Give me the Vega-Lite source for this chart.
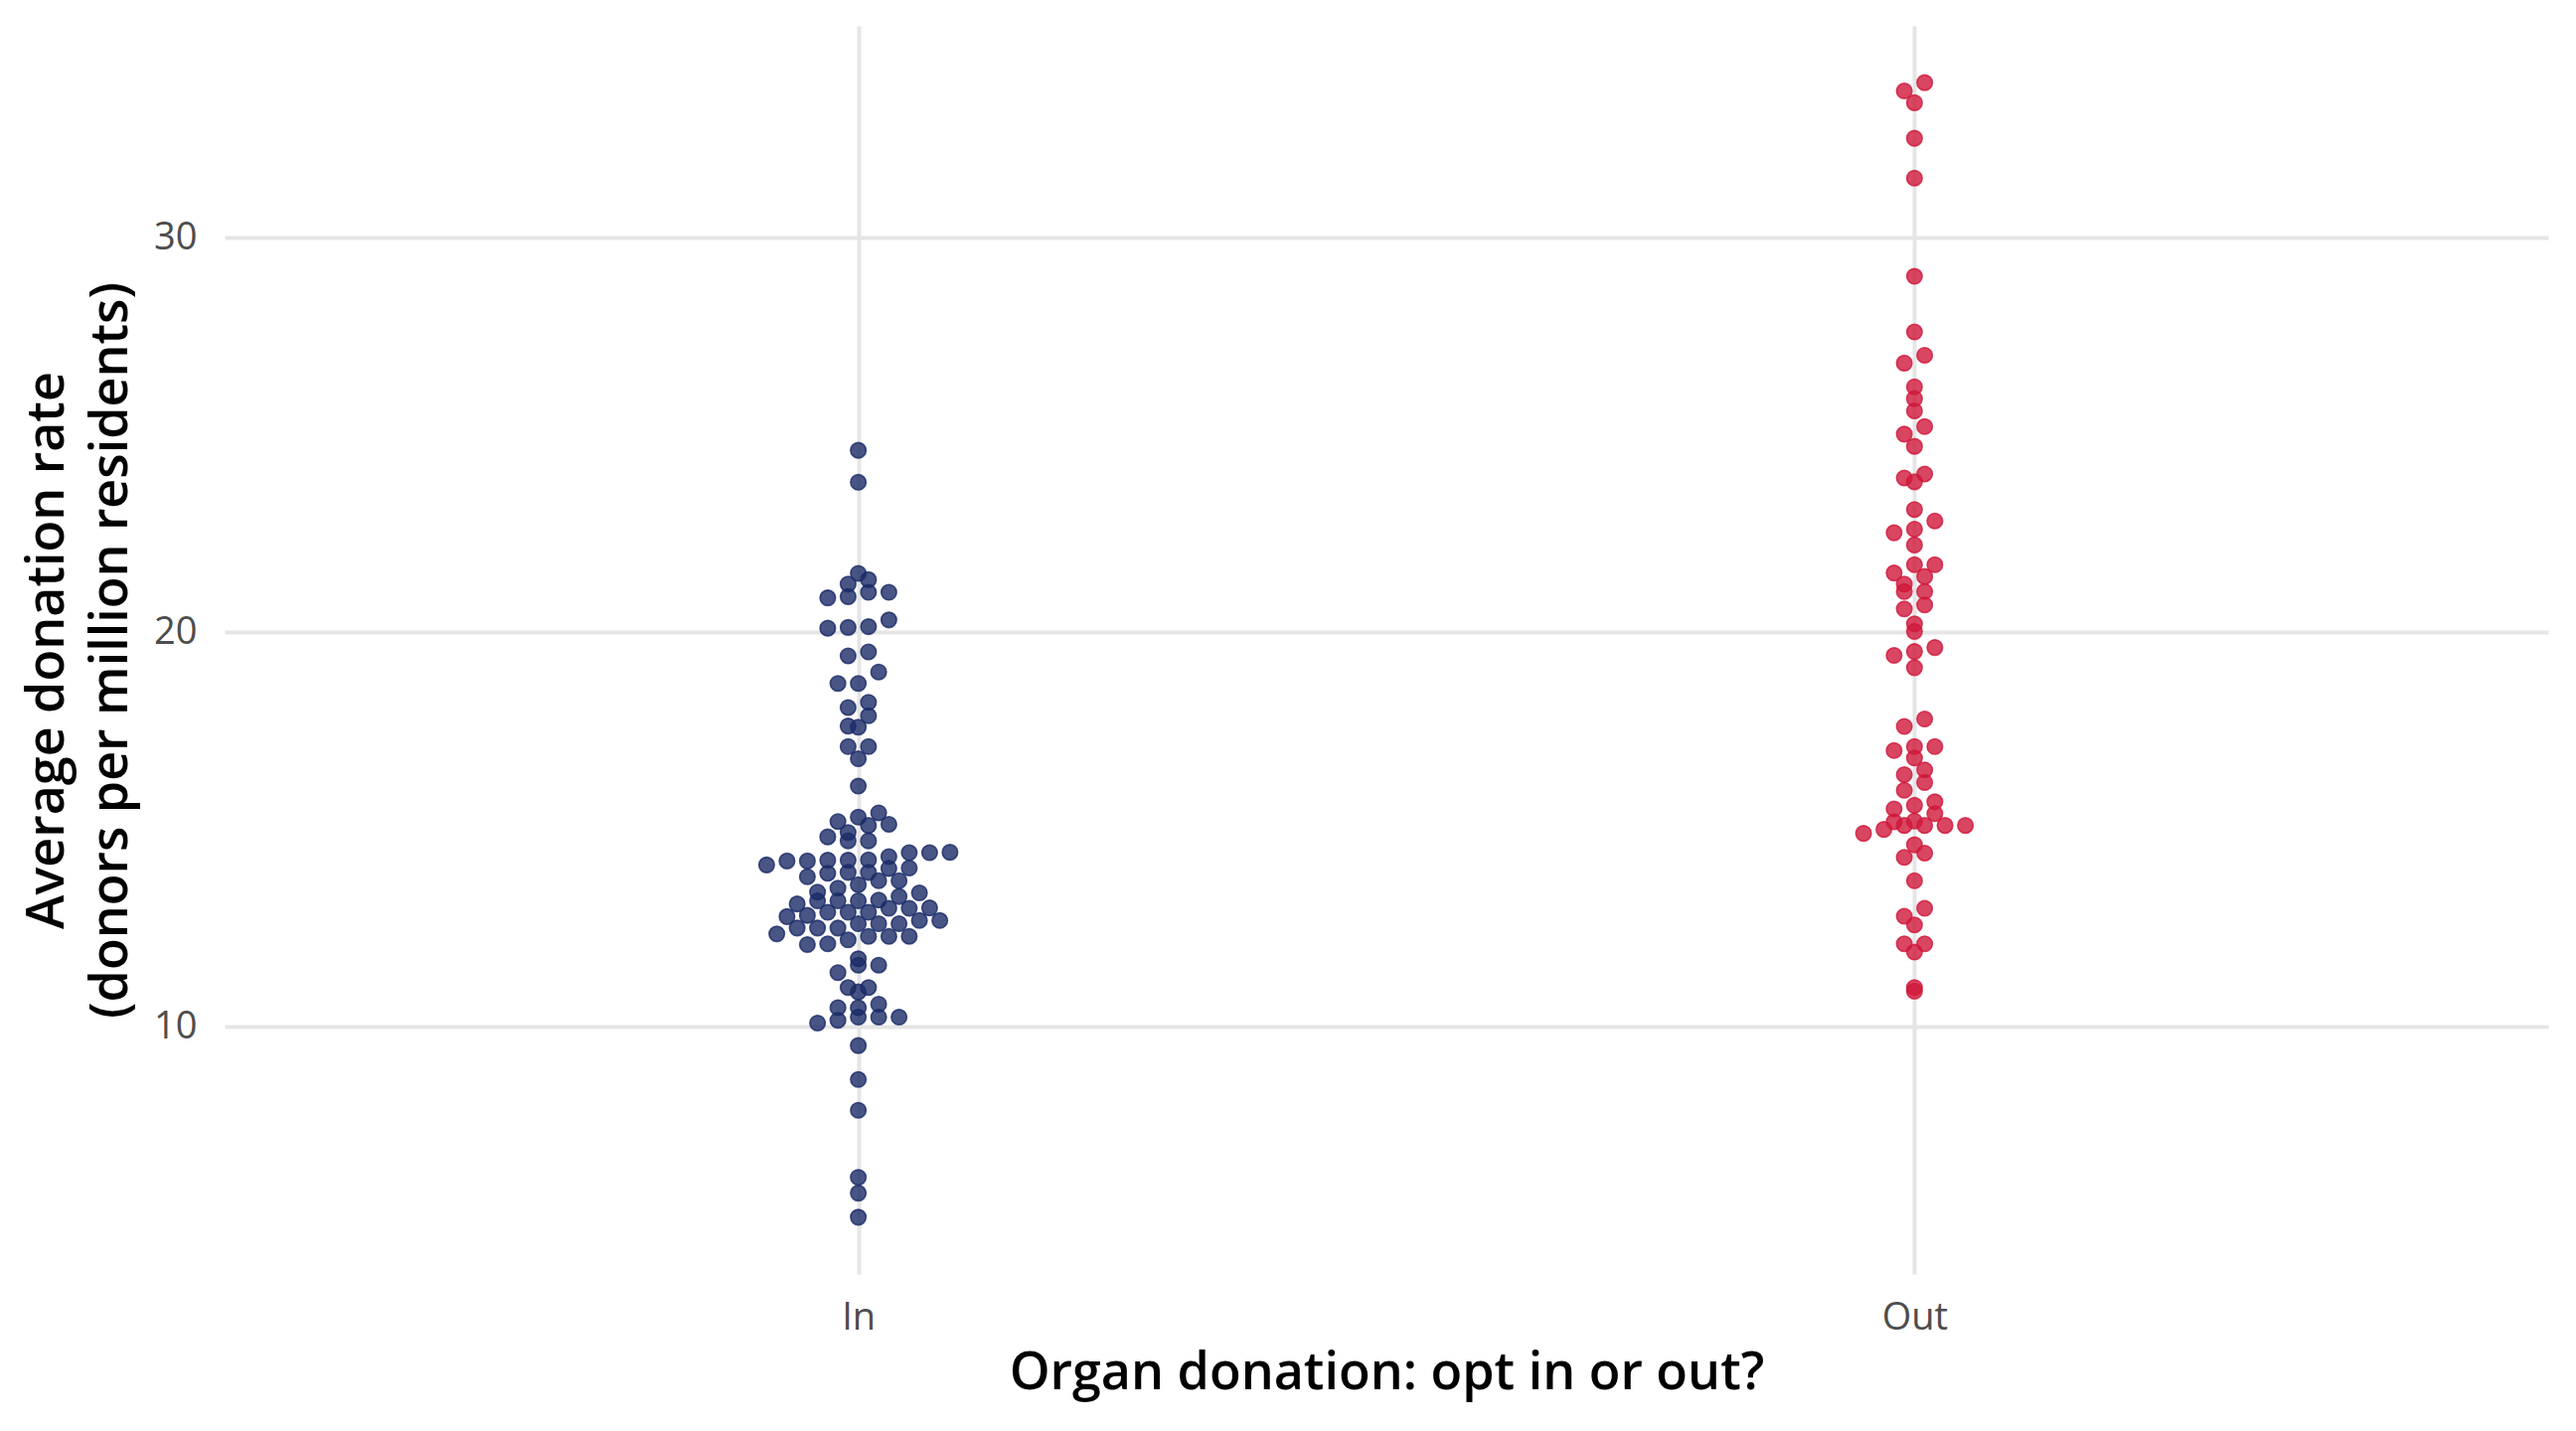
{
  "$schema": "https://vega.github.io/schema/vega-lite/v6.json",
  "width": 2338,
  "height": 1256,
  "autosize": {"type": "none"},
  "padding": {"left": 226, "top": 26, "right": 28, "bottom": 158},
  "background": "white",
  "config": {"view": {"stroke": null}, "font": "Open Sans"},
  "datasets": {
    "donors": [
      {"opt": "In", "rate": 24.61}, {"opt": "In", "rate": 23.80}, {"opt": "In", "rate": 21.49}, {"opt": "In", "rate": 21.22},
      {"opt": "In", "rate": 21.33}, {"opt": "In", "rate": 21.01}, {"opt": "In", "rate": 21.01}, {"opt": "In", "rate": 20.87},
      {"opt": "In", "rate": 20.90}, {"opt": "In", "rate": 20.14}, {"opt": "In", "rate": 20.10}, {"opt": "In", "rate": 20.12},
      {"opt": "In", "rate": 20.31}, {"opt": "In", "rate": 19.40}, {"opt": "In", "rate": 19.50}, {"opt": "In", "rate": 18.99},
      {"opt": "In", "rate": 18.70}, {"opt": "In", "rate": 18.70}, {"opt": "In", "rate": 18.22}, {"opt": "In", "rate": 18.09},
      {"opt": "In", "rate": 17.88}, {"opt": "In", "rate": 17.59}, {"opt": "In", "rate": 17.62}, {"opt": "In", "rate": 17.10},
      {"opt": "In", "rate": 17.10}, {"opt": "In", "rate": 16.79}, {"opt": "In", "rate": 16.10}, {"opt": "In", "rate": 15.42},
      {"opt": "In", "rate": 15.20}, {"opt": "In", "rate": 15.10}, {"opt": "In", "rate": 15.13}, {"opt": "In", "rate": 15.31},
      {"opt": "In", "rate": 14.81}, {"opt": "In", "rate": 14.71}, {"opt": "In", "rate": 14.71}, {"opt": "In", "rate": 14.92},
      {"opt": "In", "rate": 14.41}, {"opt": "In", "rate": 14.41}, {"opt": "In", "rate": 14.31}, {"opt": "In", "rate": 14.22},
      {"opt": "In", "rate": 14.01}, {"opt": "In", "rate": 14.02}, {"opt": "In", "rate": 14.22}, {"opt": "In", "rate": 14.10},
      {"opt": "In", "rate": 14.23}, {"opt": "In", "rate": 14.20}, {"opt": "In", "rate": 14.20}, {"opt": "In", "rate": 14.42},
      {"opt": "In", "rate": 13.80}, {"opt": "In", "rate": 13.91}, {"opt": "In", "rate": 13.91}, {"opt": "In", "rate": 13.89},
      {"opt": "In", "rate": 13.60}, {"opt": "In", "rate": 13.70}, {"opt": "In", "rate": 13.70}, {"opt": "In", "rate": 13.51},
      {"opt": "In", "rate": 13.39}, {"opt": "In", "rate": 13.41}, {"opt": "In", "rate": 13.19}, {"opt": "In", "rate": 13.00},
      {"opt": "In", "rate": 13.00}, {"opt": "In", "rate": 13.19}, {"opt": "In", "rate": 13.11}, {"opt": "In", "rate": 13.19},
      {"opt": "In", "rate": 13.21}, {"opt": "In", "rate": 13.30}, {"opt": "In", "rate": 13.01}, {"opt": "In", "rate": 12.90},
      {"opt": "In", "rate": 12.82}, {"opt": "In", "rate": 12.90}, {"opt": "In", "rate": 12.90}, {"opt": "In", "rate": 12.69},
      {"opt": "In", "rate": 12.79}, {"opt": "In", "rate": 12.61}, {"opt": "In", "rate": 12.61}, {"opt": "In", "rate": 12.61},
      {"opt": "In", "rate": 12.69}, {"opt": "In", "rate": 12.50}, {"opt": "In", "rate": 12.50}, {"opt": "In", "rate": 12.50},
      {"opt": "In", "rate": 12.35}, {"opt": "In", "rate": 12.29}, {"opt": "In", "rate": 12.20}, {"opt": "In", "rate": 12.08},
      {"opt": "In", "rate": 12.10}, {"opt": "In", "rate": 12.29}, {"opt": "In", "rate": 12.29}, {"opt": "In", "rate": 11.56},
      {"opt": "In", "rate": 11.56}, {"opt": "In", "rate": 11.72}, {"opt": "In", "rate": 11.37}, {"opt": "In", "rate": 10.99},
      {"opt": "In", "rate": 10.88}, {"opt": "In", "rate": 10.99}, {"opt": "In", "rate": 10.57}, {"opt": "In", "rate": 10.48},
      {"opt": "In", "rate": 10.48}, {"opt": "In", "rate": 10.24}, {"opt": "In", "rate": 10.24}, {"opt": "In", "rate": 10.09},
      {"opt": "In", "rate": 10.16}, {"opt": "In", "rate": 10.24}, {"opt": "In", "rate": 9.52}, {"opt": "In", "rate": 8.66},
      {"opt": "In", "rate": 7.88}, {"opt": "In", "rate": 6.18}, {"opt": "In", "rate": 5.78}, {"opt": "In", "rate": 5.17},
      {"opt": "Out", "rate": 33.93}, {"opt": "Out", "rate": 33.72}, {"opt": "Out", "rate": 33.42}, {"opt": "Out", "rate": 32.52},
      {"opt": "Out", "rate": 31.51}, {"opt": "Out", "rate": 29.02}, {"opt": "Out", "rate": 27.61}, {"opt": "Out", "rate": 27.02},
      {"opt": "Out", "rate": 26.82}, {"opt": "Out", "rate": 26.22}, {"opt": "Out", "rate": 25.92}, {"opt": "Out", "rate": 25.61},
      {"opt": "Out", "rate": 25.21}, {"opt": "Out", "rate": 25.02}, {"opt": "Out", "rate": 24.71}, {"opt": "Out", "rate": 24.01},
      {"opt": "Out", "rate": 23.81}, {"opt": "Out", "rate": 23.91}, {"opt": "Out", "rate": 23.11}, {"opt": "Out", "rate": 22.82},
      {"opt": "Out", "rate": 22.52}, {"opt": "Out", "rate": 22.61}, {"opt": "Out", "rate": 22.21}, {"opt": "Out", "rate": 21.71},
      {"opt": "Out", "rate": 21.71}, {"opt": "Out", "rate": 21.50}, {"opt": "Out", "rate": 21.41}, {"opt": "Out", "rate": 21.22},
      {"opt": "Out", "rate": 21.03}, {"opt": "Out", "rate": 21.03}, {"opt": "Out", "rate": 20.59}, {"opt": "Out", "rate": 20.69},
      {"opt": "Out", "rate": 20.21}, {"opt": "Out", "rate": 20.02}, {"opt": "Out", "rate": 19.61}, {"opt": "Out", "rate": 19.41},
      {"opt": "Out", "rate": 19.51}, {"opt": "Out", "rate": 19.10}, {"opt": "Out", "rate": 17.80}, {"opt": "Out", "rate": 17.61},
      {"opt": "Out", "rate": 17.10}, {"opt": "Out", "rate": 17.10}, {"opt": "Out", "rate": 17.00}, {"opt": "Out", "rate": 16.81},
      {"opt": "Out", "rate": 16.51}, {"opt": "Out", "rate": 16.39}, {"opt": "Out", "rate": 16.19}, {"opt": "Out", "rate": 15.99},
      {"opt": "Out", "rate": 15.70}, {"opt": "Out", "rate": 15.61}, {"opt": "Out", "rate": 15.52}, {"opt": "Out", "rate": 15.40},
      {"opt": "Out", "rate": 15.21}, {"opt": "Out", "rate": 15.10}, {"opt": "Out", "rate": 15.10}, {"opt": "Out", "rate": 15.10},
      {"opt": "Out", "rate": 15.00}, {"opt": "Out", "rate": 15.10}, {"opt": "Out", "rate": 15.19}, {"opt": "Out", "rate": 14.90},
      {"opt": "Out", "rate": 14.61}, {"opt": "Out", "rate": 14.29}, {"opt": "Out", "rate": 14.40}, {"opt": "Out", "rate": 13.70},
      {"opt": "Out", "rate": 13.00}, {"opt": "Out", "rate": 12.80}, {"opt": "Out", "rate": 12.58}, {"opt": "Out", "rate": 12.10},
      {"opt": "Out", "rate": 12.10}, {"opt": "Out", "rate": 11.89}, {"opt": "Out", "rate": 10.90}, {"opt": "Out", "rate": 10.99}
    ]
  },
  "data": {"name": "donors"},
  "transform": [
    {"bin": {"step": 0.35, "anchor": 0.1}, "field": "rate", "as": "rbin"},
    {"joinaggregate": [{"op": "count", "as": "n"}], "groupby": ["opt", "rbin"]},
    {"window": [{"op": "row_number", "as": "k"}], "groupby": ["opt", "rbin"], "sort": [{"field": "rate", "order": "ascending"}]},
    {"calculate": "datum.k - (datum.n + 1) / 2", "as": "slot"}
  ],
  "mark": {"type": "circle", "size": 240, "fillOpacity": 0.8, "strokeOpacity": 0.8, "strokeWidth": 1.6},
  "encoding": {
    "x": {
      "field": "opt",
      "type": "nominal",
      "sort": ["In", "Out"],
      "scale": {"type": "point", "padding": 0.6},
      "axis": {
        "title": "Organ donation: opt in or out?",
        "labelAngle": 0,
        "ticks": false,
        "tickSize": 0,
        "domain": false,
        "grid": true,
        "gridColor": "#e5e5e5",
        "gridWidth": 4,
        "labelFontSize": 38,
        "labelColor": "#4d4d4d",
        "labelPadding": 25,
        "titleFontSize": 52,
        "titleFontWeight": 600,
        "titleColor": "#000000",
        "titlePadding": 11
      }
    },
    "xOffset": {
      "field": "slot",
      "type": "quantitative",
      "scale": {"domain": [-10, 10], "range": [-205, 205]}
    },
    "y": {
      "field": "rate",
      "type": "quantitative",
      "scale": {"domain": [3.73, 35.37], "nice": false, "zero": false},
      "axis": {
        "values": [10, 20, 30],
        "title": ["Average donation rate", "(donors per million residents)"],
        "ticks": false,
        "tickSize": 0,
        "domain": false,
        "grid": true,
        "gridColor": "#e5e5e5",
        "gridWidth": 4,
        "labelFontSize": 38,
        "labelColor": "#4d4d4d",
        "labelPadding": 28,
        "titleFontSize": 52,
        "titleFontWeight": 600,
        "titleColor": "#000000",
        "titleLineHeight": 64,
        "titlePadding": 16
      }
    },
    "color": {
      "field": "opt",
      "type": "nominal",
      "scale": {"domain": ["In", "Out"], "range": ["#1a2a66", "#d0183b"]},
      "legend": null
    },
    "stroke": {
      "field": "opt",
      "type": "nominal",
      "scale": {"domain": ["In", "Out"], "range": ["#1a2a66", "#d0183b"]},
      "legend": null
    }
  }
}
